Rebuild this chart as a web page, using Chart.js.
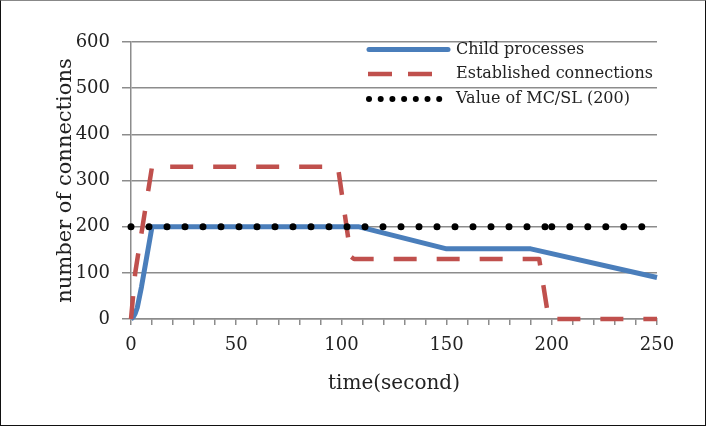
<!DOCTYPE html>
<html>
<head>
<meta charset="utf-8">
<script src="https://cdn.jsdelivr.net/npm/chart.js@4"></script>
<style>
    html, body { margin: 0; padding: 0; background: #fff; }
    #wrap { position: relative; width: 706px; height: 426px; }
    #frame {
        position: absolute; left: 0; top: 0; width: 706px; height: 426px;
        box-sizing: border-box; border: 1.5px solid #111; border-top-color: #888;
        pointer-events: none;
    }
</style>
</head>
<body>
<div id="wrap">
    <canvas id="chart" width="706" height="426"></canvas>
    <div id="frame"></div>
</div>
<script>
// values
const childTime = [0, 1, 2, 3, 5, 10, 108, 150, 190, 250];
const childCount = [0, 4, 12, 25, 70, 200, 200, 152, 152, 90];

const estTime = [0, 1, 2, 10, 97, 98.5, 104.5, 106, 194, 198.5, 250];
const estCount = [0, 50, 100, 330, 330, 325, 135, 130, 130, 0, 0];

const limitTime = [0, 200, 250];
const limitCount = [200, 200, 200];

const seriesNames = ['Child processes', 'Established connections', 'Value of MC/SL (200)'];
const xTicks = [0, 50, 100, 150, 200, 250];
const yTicks = [0, 100, 200, 300, 400, 500, 600];

const FONT = 'DejaVu Serif';
const BLUE = '#4a7ebb';
const RED = '#c0504d';
const GRID = '#8c8c8c';

function toPoints(xs, ys) {
    return xs.map((x, i) => ({ x: x, y: ys[i] }));
}

const datasets = [
    {
        label: seriesNames[0],
        data: toPoints(childTime, childCount),
        borderColor: BLUE,
        borderWidth: 5,
        borderJoinStyle: 'round',
        tension: 0,
        clip: false,
        order: 3
    },
    {
        label: seriesNames[1],
        data: toPoints(estTime, estCount),
        borderColor: RED,
        borderWidth: 4.5,
        borderDash: [23, 20],
        borderJoinStyle: 'round',
        tension: 0,
        clip: false,
        order: 2
    }
];

// the dotted line restarts its pattern at every point, so one piece per segment
for (let i = 0; i < limitTime.length - 1; i++) {
    datasets.push({
        label: seriesNames[2],
        data: toPoints(limitTime.slice(i, i + 2), limitCount.slice(i, i + 2)),
        borderColor: '#000',
        borderWidth: 7,
        borderDash: [0, 18],
        borderCapStyle: 'round',
        tension: 0,
        clip: false,
        order: 1
    });
}

const insideLegend = {
    id: 'insideLegend',
    afterDraw(chart) {
        const ctx = chart.ctx;
        const x0 = 369, x1 = 448, tx = 456;
        const rows = [49.5, 74, 99];
        ctx.save();
        ctx.lineCap = 'round';

        ctx.strokeStyle = BLUE;
        ctx.lineWidth = 5;
        ctx.beginPath();
        ctx.moveTo(x0, rows[0]);
        ctx.lineTo(x1, rows[0]);
        ctx.stroke();

        ctx.lineCap = 'butt';
        ctx.strokeStyle = RED;
        ctx.lineWidth = 4.5;
        ctx.setLineDash([24, 16]);
        ctx.beginPath();
        ctx.moveTo(x0 - 1, rows[1]);
        ctx.lineTo(x1 - 14, rows[1]);
        ctx.stroke();

        ctx.setLineDash([]);
        ctx.fillStyle = '#000';
        for (let k = 0; k < 7; k++) {
            ctx.beginPath();
            ctx.arc(x0 + k * 11.7, rows[2], 3, 0, Math.PI * 2);
            ctx.fill();
        }

        ctx.fillStyle = '#222';
        ctx.font = '16px "' + FONT + '"';
        ctx.textAlign = 'left';
        ctx.textBaseline = 'middle';
        seriesNames.forEach((name, i) => ctx.fillText(name, tx, rows[i]));
        ctx.restore();
    }
};

new Chart(document.getElementById('chart'), {
    type: 'line',
    data: { datasets: datasets },
    options: {
        responsive: false,
        animation: false,
        events: [],
        layout: { padding: { top: 42, right: 49, left: 0, bottom: 0 } },
        elements: { point: { radius: 0 } },
        scales: {
            x: {
                type: 'linear',
                min: 0,
                max: 250,
                afterFit: scale => { scale.height = 426 - 319; },
                afterBuildTicks: scale => {
                    const t = [];
                    for (let v = 0; v <= 250; v += 10) t.push({ value: v });
                    scale.ticks = t;
                },
                ticks: {
                    autoSkip: false,
                    maxRotation: 0,
                    padding: 10,
                    color: '#222',
                    font: { family: FONT, size: 18 },
                    callback: v => (xTicks.includes(v) ? String(v) : '')
                },
                grid: {
                    drawOnChartArea: false,
                    drawTicks: true,
                    tickLength: 6,
                    color: GRID,
                    lineWidth: 1.5
                },
                border: { color: GRID, width: 1.5 },
                title: {
                    display: true,
                    text: 'time(second)',
                    color: '#222',
                    font: { family: FONT, size: 20 },
                    padding: { top: 0, bottom: 30 }
                }
            },
            y: {
                min: 0,
                max: 600,
                afterFit: scale => { scale.width = 131; },
                afterBuildTicks: scale => {
                    scale.ticks = yTicks.map(v => ({ value: v }));
                },
                ticks: {
                    padding: 12,
                    color: '#222',
                    font: { family: FONT, size: 18 }
                },
                grid: {
                    color: GRID,
                    lineWidth: 1.5,
                    tickLength: 9
                },
                border: { color: GRID, width: 1.5 },
                title: {
                    display: true,
                    text: 'number of connections',
                    color: '#222',
                    font: { family: FONT, size: 21 },
                    padding: { top: 53, bottom: 0 }
                }
            }
        },
        plugins: {
            legend: { display: false },
            tooltip: { enabled: false }
        }
    },
    plugins: [insideLegend]
});
</script>
</body>
</html>
